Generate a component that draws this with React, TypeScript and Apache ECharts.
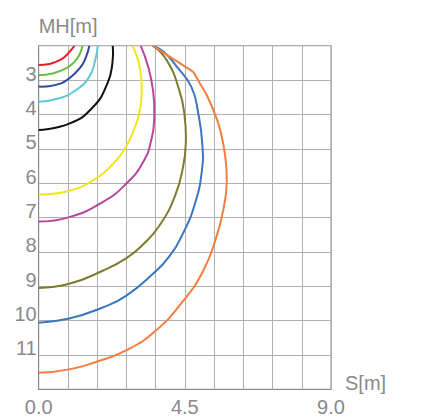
import React, { useEffect, useRef } from "react";
import * as echarts from "echarts";

// Axis settings
const xTicks = [0, 4.5, 9];
const yLabelValues = [3, 4, 5, 6, 7, 8, 9, 10, 11];

// Curves: [S, MH] points, from the MH axis up to the top edge
const redCurve = [[0, 2.56], [0.33, 2.53], [0.53, 2.47], [0.74, 2.37], [0.89, 2.24], [1.02, 2.1], [1.1, 2.0]];
const greenCurve = [[0, 2.86], [0.43, 2.81], [0.84, 2.66], [1.1, 2.47], [1.25, 2.27], [1.35, 2.0]];
const navyCurve = [[0, 3.19], [0.53, 3.14], [0.94, 2.95], [1.3, 2.61], [1.46, 2.32], [1.56, 2.0]];
const cyanCurve = [[0, 3.63], [0.63, 3.53], [1.15, 3.29], [1.56, 2.9], [1.74, 2.42], [1.82, 2.0]];
const blackCurve = [[0, 4.45], [0.94, 4.27], [1.66, 3.8], [2.12, 3.09], [2.27, 2.5], [2.28, 2.0]];
const yellowCurve = [[0, 6.33], [0.94, 6.22], [1.76, 5.87], [2.3, 5.43], [2.66, 4.99], [2.91, 4.5], [3.1, 3.95], [3.17, 3.4], [3.15, 2.9], [3.06, 2.42], [2.89, 2.0]];
const magentaCurve = [[0, 7.12], [0.94, 6.99], [1.97, 6.55], [2.69, 6.02], [3.22, 5.38], [3.48, 4.69], [3.56, 4.02], [3.52, 3.3], [3.37, 2.61], [3.14, 2.0]];
const oliveCurve = [[0, 9.05], [0.94, 8.93], [1.97, 8.55], [2.69, 8.19], [3.22, 7.78], [3.73, 7.22], [4.2, 6.36], [4.45, 5.5], [4.53, 4.79], [4.49, 4.02], [4.33, 3.3], [3.94, 2.42], [3.51, 2.0]];
const blueCurve = [[0, 10.06], [0.94, 9.94], [1.97, 9.62], [2.69, 9.28], [3.56, 8.6], [3.99, 8.17], [4.45, 7.45], [4.81, 6.6], [5.02, 5.67], [5.04, 4.89], [4.91, 3.95], [4.7, 3.2], [4.25, 2.61], [3.84, 2.17], [3.51, 2.0]];
const orangeCurve = [[0, 11.52], [0.94, 11.42], [1.78, 11.2], [2.69, 10.87], [3.61, 10.29], [4.43, 9.45], [5.05, 8.58], [5.46, 7.6], [5.71, 6.65], [5.79, 5.96], [5.74, 5.2], [5.6, 4.5], [5.45, 4.05], [5.18, 3.45], [4.96, 3.09], [4.76, 2.76]];
const orangeStraight = [[4.76, 2.76], [3.51, 2.0]];

const curves = [
  { name: "red", data: redCurve, color: "#ec1c24", smooth: 0.5 },
  { name: "green", data: greenCurve, color: "#6abd45", smooth: 0.5 },
  { name: "navy", data: navyCurve, color: "#2e4a9e", smooth: 0.5 },
  { name: "cyan", data: cyanCurve, color: "#63c8d6", smooth: 0.5 },
  { name: "black", data: blackCurve, color: "#111111", smooth: 0.5 },
  { name: "yellow", data: yellowCurve, color: "#f2e61a", smooth: 0.5 },
  { name: "magenta", data: magentaCurve, color: "#b8469f", smooth: 0.5 },
  { name: "olive", data: oliveCurve, color: "#7d7b2c", smooth: 0.5 },
  { name: "blue", data: blueCurve, color: "#3b76c2", smooth: 0.5 },
  { name: "orange", data: orangeCurve, color: "#f57d3d", smooth: 0.5 },
  { name: "orange-top", data: orangeStraight, color: "#f57d3d", smooth: 0 },
];

const FONT = "'Liberation Sans', Arial, Helvetica, sans-serif";
const GRAY = "#8a8a8a";

export default function App() {
  const ref = useRef<HTMLDivElement>(null);
  useEffect(() => {
    if (!ref.current) return;
    const chart = echarts.init(ref.current, undefined, { renderer: "svg" });
    const series: any[] = curves.map((c) => ({
      type: "custom",
      name: c.name,
      data: c.data,
      encode: { x: 0, y: 1 },
      clip: true,
      renderItem: (params: any, api: any) => {
        if (params.dataIndex !== 0) return null;
        const pts = c.data.map((p) => api.coord(p));
        return {
          type: "polyline",
          shape: { points: pts, smooth: c.smooth },
          style: { stroke: c.color, lineWidth: 2, fill: null },
          silent: true,
        };
      },
    }));
    chart.setOption({
      animation: false,
      backgroundColor: "#ffffff",
      grid: {
        left: 38.7,
        right: 95,
        top: 45.7,
        bottom: 29.7,
        show: true,
        borderColor: "#8a8a8a",
        borderWidth: 1,
      },
      xAxis: {
        type: "value",
        min: 0,
        max: 9,
        interval: 0.9,
        name: "S[m]",
        nameLocation: "end",
        nameGap: 14,
        nameTextStyle: {
          color: GRAY,
          fontSize: 20,
          fontFamily: FONT,
          align: "left",
          verticalAlign: "bottom",
          lineHeight: 13,
        },
        axisLine: { show: true, lineStyle: { color: "#8a8a8a", width: 1 } },
        axisTick: { show: false },
        axisLabel: {
          color: GRAY,
          fontSize: 20,
          fontFamily: FONT,
          margin: 8,
          formatter: (v: number) => {
            const hit = xTicks.find((t) => Math.abs(t - v) < 1e-6);
            return hit === undefined ? "" : hit.toFixed(1);
          },
        },
        splitLine: { show: true, lineStyle: { color: "#b0b0b0", width: 1 } },
      },
      yAxis: {
        type: "value",
        inverse: true,
        min: 2,
        max: 12,
        interval: 1,
        name: "MH[m]",
        nameLocation: "start",
        nameGap: 10,
        nameTextStyle: {
          color: GRAY,
          fontSize: 20,
          fontFamily: FONT,
          align: "left",
          verticalAlign: "bottom",
        },
        axisLine: { show: true, lineStyle: { color: "#8a8a8a", width: 1 } },
        axisTick: { show: false },
        axisLabel: {
          color: GRAY,
          fontSize: 20,
          fontFamily: FONT,
          margin: 2,
          verticalAlign: "bottom",
          lineHeight: 13,
          formatter: (v: number) => (yLabelValues.indexOf(Math.round(v)) >= 0 && Math.abs(v - Math.round(v)) < 1e-6 ? String(Math.round(v)) : ""),
        },
        splitLine: { show: true, lineStyle: { color: "#b0b0b0", width: 1 } },
      },
      series,
    });
    return () => chart.dispose();
  }, []);
  return (
    <div
      ref={ref}
      style={{ position: "fixed", left: 0, top: 0, width: 426, height: 419, background: "#fff" }}
    />
  );
}
